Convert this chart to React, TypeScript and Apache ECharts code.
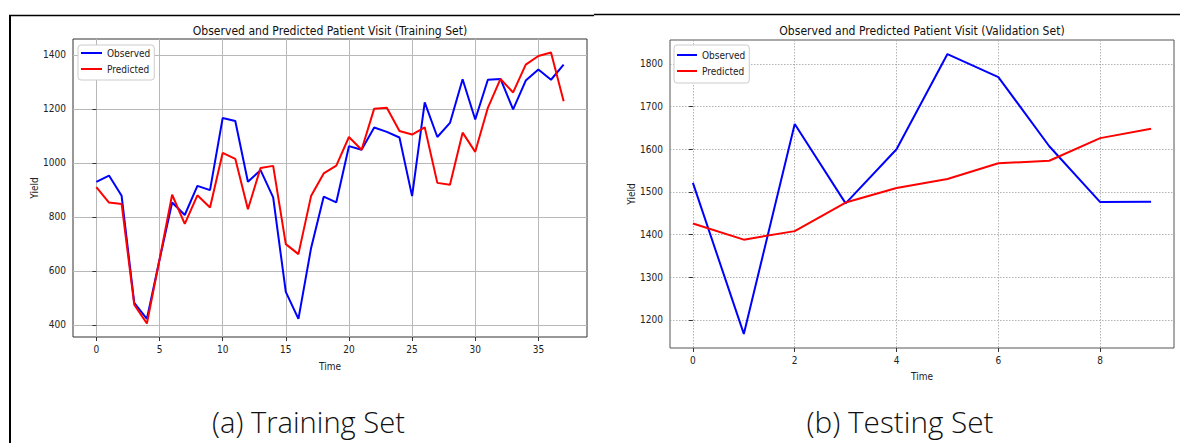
import React, { useEffect, useRef } from "react";
import * as echarts from "echarts";

// ---- data ----
const trainObserved = [930, 953, 878, 481, 422, 641, 853, 807, 915, 899, 1166, 1155, 930, 973, 872, 522, 422, 684, 875, 854, 1062, 1049, 1131, 1115, 1094, 877, 1224, 1096, 1148, 1310, 1161, 1308, 1311, 1198, 1305, 1346, 1308, 1364];
const trainPredicted = [910, 853, 848, 475, 405, 641, 882, 774, 880, 835, 1037, 1015, 828, 981, 989, 699, 662, 877, 961, 990, 1096, 1049, 1201, 1204, 1118, 1105, 1132, 926, 919, 1112, 1041, 1204, 1311, 1261, 1364, 1396, 1409, 1228];
const valObserved = [1521, 1167, 1659, 1473, 1600, 1823, 1769, 1607, 1476, 1477];
const valPredicted = [1426, 1388, 1408, 1475, 1509, 1530, 1567, 1573, 1626, 1648];

const trainXTicks = [0, 5, 10, 15, 20, 25, 30, 35];
const trainYTicks = [400, 600, 800, 1000, 1200, 1400];
const valXTicks = [0, 2, 4, 6, 8];
const valYTicks = [1200, 1300, 1400, 1500, 1600, 1700, 1800];

const seriesNames = ["Observed", "Predicted"];
const seriesColors = ["#0000ff", "#ff0000"];
const panelTitles = [
  "Observed and Predicted Patient Visit (Training Set)",
  "Observed and Predicted Patient Visit (Validation Set)",
];
const captions = ["(a) Training Set", "(b) Testing Set"];
const xName = "Time";
const yName = "Yield";

const FONT = "'DejaVu Sans Condensed', 'Liberation Sans', sans-serif";
const TITLE_FONT_FAMILY = "'DejaVu Sans', sans-serif";
const CAPTION_FONT_FAMILY = "'Open Sans', 'Lato', sans-serif";

function measure(text: string, font: string): number {
  const c = document.createElement("canvas").getContext("2d");
  if (!c) return text.length * 6;
  c.font = font;
  return c.measureText(text).width;
}

const toPairs = (arr: number[]) => arr.map((v, i) => [i, v]);
const plain = (v: number) => String(v);

function xAxis(gridIndex: number, min: number, max: number, splitNumber: number, ticks: number[], nameGap: number, split: any) {
  return {
    type: "value",
    gridIndex,
    min,
    max,
    splitNumber,
    name: xName,
    nameLocation: "middle",
    nameGap,
    nameTextStyle: { fontSize: 10, fontFamily: FONT, color: "#222" },
    axisLine: { show: false },
    axisTick: { show: true, length: 4, lineStyle: { color: "#333", width: 1 }, customValues: ticks },
    axisLabel: { customValues: ticks, formatter: plain, margin: 7, fontSize: 10, fontFamily: FONT, color: "#222" },
    splitLine: { show: true, lineStyle: split },
  };
}

function yAxis(gridIndex: number, min: number, max: number, ticks: number[], nameGap: number, split: any) {
  return {
    type: "value",
    gridIndex,
    min,
    max,
    splitNumber: 5,
    name: yName,
    nameLocation: "middle",
    nameGap,
    nameTextStyle: { fontSize: 10, fontFamily: FONT, color: "#222" },
    axisLine: { show: false },
    axisTick: { show: true, length: 4, lineStyle: { color: "#333", width: 1 }, customValues: ticks },
    axisLabel: { customValues: ticks, formatter: plain, margin: 7, fontSize: 10, fontFamily: FONT, color: "#222" },
    splitLine: { show: true, lineStyle: split },
  };
}

function legend(left: number, top: number, itemWidth: number, padding: number[]) {
  return {
    data: seriesNames,
    orient: "vertical",
    left,
    top,
    icon: "rect",
    itemWidth,
    itemHeight: 2,
    itemGap: 6,
    padding,
    backgroundColor: "#ffffff",
    borderColor: "#cccccc",
    borderWidth: 1,
    borderRadius: 3,
    textStyle: { fontSize: 10, fontFamily: FONT, color: "#222" },
    selectedMode: false,
  };
}

export default function App() {
  const ref = useRef<HTMLDivElement>(null);

  useEffect(() => {
    if (!ref.current) return;
    const chart = echarts.init(ref.current, undefined, { renderer: "svg" });

    const titleFont = `13px ${TITLE_FONT_FAMILY}`;
    const titleScale = 275 / measure(panelTitles[0], titleFont);
    const capFont = `300 29px ${CAPTION_FONT_FAMILY}`;
    const capScaleA = 193 / measure(captions[0], capFont);
    const capScaleB = 187 / measure(captions[1], capFont);

    const solidGrid = { color: "#b8b8b8", width: 1, type: "solid" };
    const dottedGrid = { color: "#a0a0a0", width: 0.8, type: [1.5, 1.5] };

    const lineSeries = (name: string, idx: number, data: number[], axisIndex: number) => ({
      type: "line",
      name,
      xAxisIndex: axisIndex,
      yAxisIndex: axisIndex,
      data: toPairs(data),
      showSymbol: false,
      symbol: "none",
      lineStyle: { color: seriesColors[idx], width: 2 },
      itemStyle: { color: seriesColors[idx] },
      z: 3 + idx,
    });

    chart.setOption({
      animation: false,
      backgroundColor: "#ffffff",
      grid: [
        { left: 73, top: 39, width: 514, height: 298, show: true, borderColor: "#333", borderWidth: 1, backgroundColor: "transparent", containLabel: false },
        { left: 670, top: 40, width: 504, height: 308, show: true, borderColor: "#555", borderWidth: 1, backgroundColor: "transparent", containLabel: false },
      ],
      xAxis: [
        xAxis(0, -1.85, 38.85, 8, trainXTicks, 24, solidGrid),
        xAxis(1, -0.45, 9.45, 5, valXTicks, 23, dottedGrid),
      ],
      yAxis: [
        yAxis(0, 355, 1459, trainYTicks, 31, solidGrid),
        yAxis(1, 1134, 1856, valYTicks, 34, dottedGrid),
      ],
      legend: [legend(78, 45, 21, [3, 4, 6, 3]), legend(674, 45, 20, [5, 4, 7, 3])],
      series: [
        lineSeries(seriesNames[0], 0, trainObserved, 0),
        lineSeries(seriesNames[1], 1, trainPredicted, 0),
        lineSeries(seriesNames[0], 0, valObserved, 1),
        lineSeries(seriesNames[1], 1, valPredicted, 1),
      ],
      graphic: [
        { type: "line", shape: { x1: 10, y1: 15, x2: 10, y2: 443 }, style: { stroke: "#000", lineWidth: 2 }, silent: true },
        { type: "line", shape: { x1: 9, y1: 15.5, x2: 594, y2: 15.5 }, style: { stroke: "#000", lineWidth: 1.5 }, silent: true },
        { type: "line", shape: { x1: 594, y1: 14.5, x2: 1180, y2: 14.5 }, style: { stroke: "#000", lineWidth: 1.5 }, silent: true },
        {
          type: "text", x: 330, y: 30.5, scaleX: titleScale, silent: true,
          style: { text: panelTitles[0], font: titleFont, fill: "#111", align: "center", verticalAlign: "middle" },
        },
        {
          type: "text", x: 922, y: 30.5, scaleX: titleScale, silent: true,
          style: { text: panelTitles[1], font: titleFont, fill: "#111", align: "center", verticalAlign: "middle" },
        },
        {
          type: "text", x: 308.5, y: 422.5, scaleX: capScaleA, silent: true,
          style: { text: captions[0], font: capFont, fill: "#111", align: "center", verticalAlign: "middle" },
        },
        {
          type: "text", x: 900, y: 422.5, scaleX: capScaleB, silent: true,
          style: { text: captions[1], font: capFont, fill: "#111", align: "center", verticalAlign: "middle" },
        },
      ],
    });

    return () => chart.dispose();
  }, []);

  return (
    <div
      ref={ref}
      style={{ position: "fixed", left: 0, top: 0, width: 1180, height: 443, background: "#fff" }}
    />
  );
}
